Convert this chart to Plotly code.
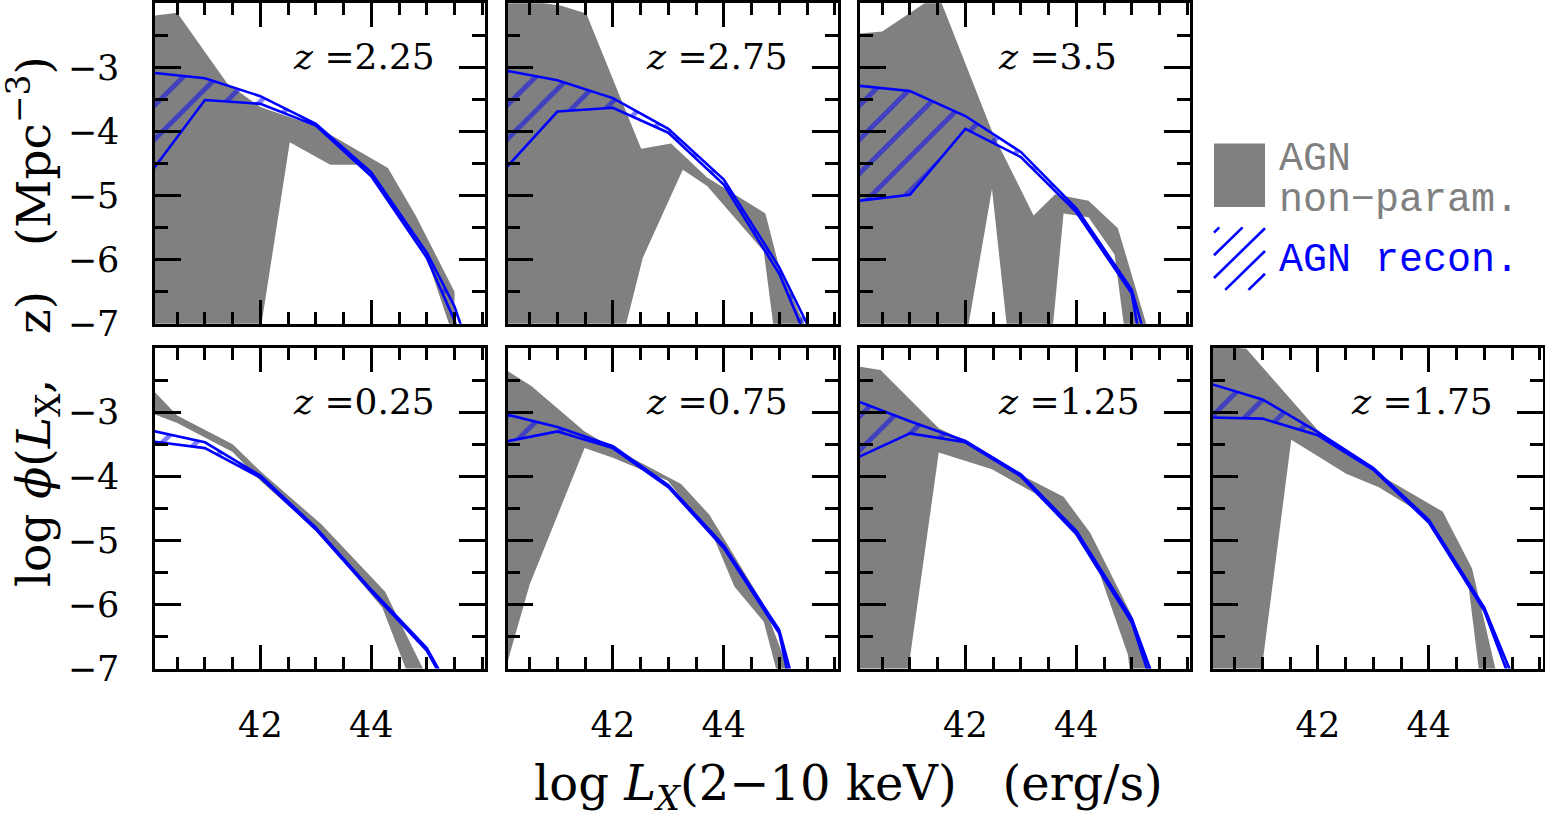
import plotly.graph_objects as go

W, H = 1545, 830

# panel redshifts: top row (2.25, 2.75, 3.5), bottom row (0.25 ... 1.75)
redshifts = ["2.25", "2.75", "3.5", "0.25", "0.75", "1.25", "1.75"]

# AGN recon. band (blue hatched): log phi, upper/lower edge, on this log Lx grid
recon_lx = [40.0, 41.0, 42.0, 43.0, 44.0, 45.0, 45.5, 46.0]

recon_hi_225 = [-3.08, -3.17, -3.45, -3.88, -4.64, -5.89, -6.73, -8.0]
recon_lo_225 = [-4.67, -3.51, -3.57, -3.91, -4.70, -5.97, -6.95, -8.5]
recon_hi_275 = [-3.04, -3.20, -3.48, -3.96, -4.75, -6.12, -7.00, -8.3]
recon_lo_275 = [-4.64, -3.69, -3.63, -4.02, -4.83, -6.22, -7.25, -8.5]
recon_hi_350 = [-3.28, -3.37, -3.76, -4.32, -5.20, -6.47, -8.0, -9.0]
recon_lo_350 = [-5.09, -4.99, -3.96, -4.40, -5.26, -6.53, -9.0, -10.0]
recon_hi_025 = [-3.28, -3.47, -3.99, -4.80, -5.77, -6.68, -7.45, -8.5]
recon_lo_025 = [-3.45, -3.56, -4.02, -4.83, -5.80, -6.72, -7.50, -8.6]
recon_hi_075 = [-3.02, -3.23, -3.53, -4.14, -5.08, -6.40, -8.0, -9.0]
recon_lo_075 = [-3.47, -3.30, -3.56, -4.17, -5.12, -6.45, -8.5, -9.5]
recon_hi_125 = [-2.81, -3.14, -3.45, -3.97, -4.85, -6.22, -7.4, -8.5]
recon_lo_125 = [-3.73, -3.33, -3.47, -4.00, -4.90, -6.28, -7.6, -8.7]
recon_hi_175 = [-2.54, -2.80, -3.31, -3.87, -4.68, -6.05, -7.10, -8.3]
recon_lo_175 = [-3.08, -3.10, -3.36, -3.90, -4.72, -6.10, -7.25, -8.5]

# AGN non-param. band (grey): upper and lower edges
nonpar_hi_x_225 = [40.0, 40.5, 41.4, 42.0, 43.0, 43.75, 44.3, 44.8, 45.5]
nonpar_hi_y_225 = [-2.20, -2.15, -3.25, -3.62, -3.92, -4.30, -4.57, -5.31, -6.50]
nonpar_lo_x_225 = [40.0, 41.9, 42.53, 43.26, 43.8, 44.0, 45.0, 45.4, 45.5]
nonpar_lo_y_225 = [-7.67, -7.67, -4.17, -4.52, -4.52, -4.68, -5.97, -7.0, -7.4]

nonpar_hi_x_275 = [40.0, 41.07, 41.52, 42.51, 43.05, 43.7, 44.75, 45.0, 45.45, 45.6]
nonpar_hi_y_275 = [-1.90, -2.04, -2.16, -4.27, -4.19, -4.72, -5.28, -6.12, -7.0, -7.6]
nonpar_lo_x_275 = [40.0, 41.95, 42.54, 43.26, 43.7, 44.72, 44.92, 45.6]
nonpar_lo_y_275 = [-8.0, -8.0, -5.97, -4.60, -4.85, -5.87, -7.2, -7.6]

nonpar_hi_x_350 = [40.0, 40.5, 41.35, 41.55, 42.5, 43.23, 43.62, 44.22, 44.75, 45.26, 45.4]
nonpar_hi_y_350 = [-2.48, -2.44, -1.95, -1.95, -4.04, -5.31, -4.98, -5.08, -5.51, -7.0, -7.5]
nonpar_lo_x_350 = [40.0, 42.0, 42.48, 42.78, 43.55, 43.77, 44.22, 44.69, 44.9, 45.4]
nonpar_lo_y_350 = [-7.3, -7.3, -4.90, -7.3, -7.3, -5.28, -5.34, -5.92, -7.3, -7.5]

nonpar_hi_x_025 = [40.0, 40.5, 41.5, 42.0, 43.1, 44.25, 44.93, 45.1]
nonpar_hi_y_025 = [-2.60, -3.05, -3.50, -3.92, -4.75, -5.80, -7.0, -7.4]
nonpar_lo_x_025 = [40.0, 40.5, 41.5, 42.0, 43.1, 44.2, 44.62, 44.8]
nonpar_lo_y_025 = [-3.00, -3.17, -3.62, -4.07, -4.92, -6.05, -7.0, -7.4]

nonpar_hi_x_075 = [40.0, 40.53, 41.49, 42.0, 43.23, 43.74, 44.72, 45.14, 45.3]
nonpar_hi_y_075 = [-2.30, -2.59, -3.30, -3.56, -4.12, -4.60, -6.00, -6.96, -7.5]
nonpar_lo_x_075 = [40.0, 40.5, 41.49, 42.0, 42.99, 43.83, 44.19, 44.72, 44.93, 45.1]
nonpar_lo_y_075 = [-7.2, -5.69, -3.56, -3.71, -4.07, -4.98, -5.72, -6.27, -6.96, -7.5]

nonpar_hi_x_125 = [40.0, 40.47, 41.52, 42.0, 42.96, 43.77, 44.25, 45.0, 45.32, 45.5]
nonpar_hi_y_125 = [-2.28, -2.34, -3.25, -3.45, -3.96, -4.32, -4.88, -6.17, -6.96, -7.5]
nonpar_lo_x_125 = [40.0, 40.9, 41.52, 42.48, 43.26, 43.92, 44.43, 44.93, 45.0]
nonpar_lo_y_125 = [-7.45, -7.45, -3.63, -3.89, -4.27, -4.83, -5.54, -6.78, -7.3]

nonpar_hi_x_175 = [40.0, 40.71, 42.0, 42.5, 43.0, 44.25, 44.78, 45.2, 45.3]
nonpar_hi_y_175 = [-1.95, -2.01, -3.28, -3.65, -3.92, -4.55, -5.44, -7.0, -7.5]
nonpar_lo_x_175 = [40.0, 40.93, 41.52, 42.51, 43.1, 44.0, 44.72, 44.9, 45.0]
nonpar_lo_y_175 = [-7.4, -7.4, -3.43, -3.96, -4.17, -4.65, -5.74, -7.0, -7.5]

# tick labels
x_tickvals = [42, 44]
y_tickvals = [-7, -6, -5, -4, -3]

recon_bands = [
    (recon_hi_225, recon_lo_225), (recon_hi_275, recon_lo_275), (recon_hi_350, recon_lo_350),
    (recon_hi_025, recon_lo_025), (recon_hi_075, recon_lo_075), (recon_hi_125, recon_lo_125),
    (recon_hi_175, recon_lo_175),
]
nonpar_bands = [
    (nonpar_hi_x_225, nonpar_hi_y_225, nonpar_lo_x_225, nonpar_lo_y_225),
    (nonpar_hi_x_275, nonpar_hi_y_275, nonpar_lo_x_275, nonpar_lo_y_275),
    (nonpar_hi_x_350, nonpar_hi_y_350, nonpar_lo_x_350, nonpar_lo_y_350),
    (nonpar_hi_x_025, nonpar_hi_y_025, nonpar_lo_x_025, nonpar_lo_y_025),
    (nonpar_hi_x_075, nonpar_hi_y_075, nonpar_lo_x_075, nonpar_lo_y_075),
    (nonpar_hi_x_125, nonpar_hi_y_125, nonpar_lo_x_125, nonpar_lo_y_125),
    (nonpar_hi_x_175, nonpar_hi_y_175, nonpar_lo_x_175, nonpar_lo_y_175),
]

GREY = "#808080"
BLUE = "#0000ff"
SERIF = "DejaVu Serif"
MONO = "Liberation Mono"
NB = "\u00a0"

# panel geometry in pixels
panel_left = [155, 507.5, 860, 1212.5]
panel_w = 330
row_top = [3.3, 356.7]
panel_h = 328.4


def px(x):
    return x / W


def py(y):
    return 1 - y / H


fig = go.Figure()
layout_axes = {}
annotations = []

for k, z in enumerate(redshifts):
    row = 0 if k < 3 else 1
    col = k if k < 3 else k - 3
    xname = "x" if k == 0 else f"x{k + 1}"
    yname = "y" if k == 0 else f"y{k + 1}"

    hx, hy, lx, ly = nonpar_bands[k]
    fig.add_trace(go.Scatter(
        x=hx + lx[::-1], y=hy + ly[::-1],
        fill="toself", fillcolor=GREY, mode="lines",
        line=dict(width=0, color=GREY),
        xaxis=xname, yaxis=yname, hoverinfo="skip", showlegend=False,
    ))

    hi, lo = recon_bands[k]
    fig.add_trace(go.Scatter(
        x=recon_lx + recon_lx[::-1], y=hi + lo[::-1],
        fill="toself", fillcolor="rgba(0,0,0,0)", mode="lines",
        fillpattern=dict(shape="/", fgcolor=BLUE, bgcolor="rgba(0,0,0,0)",
                         size=24, solidity=0.2),
        line=dict(width=2.6, color=BLUE),
        xaxis=xname, yaxis=yname, hoverinfo="skip", showlegend=False,
    ))

    left = panel_left[col]
    top = row_top[row]
    frame = dict(showline=True, linecolor="black", linewidth=2.5, mirror="allticks",
                 ticks="inside", tickcolor="black", tickwidth=2.5,
                 showgrid=False, zeroline=False,
                 tickfont=dict(family=SERIF, size=35, color="black"))
    layout_axes["xaxis" if k == 0 else f"xaxis{k + 1}"] = dict(
        frame,
        domain=[px(left), px(left + panel_w)],
        range=[40.1, 46.05], anchor=yname,
        tickmode="array", tickvals=x_tickvals, ticklen=24,
        showticklabels=(row == 1), ticklabelstandoff=24,
        minor=dict(tickmode="linear", tick0=40, dtick=0.5, ticks="inside",
                   ticklen=12, tickwidth=2.5, tickcolor="black", showgrid=False),
    )
    layout_axes["yaxis" if k == 0 else f"yaxis{k + 1}"] = dict(
        frame,
        domain=[py(top + panel_h), py(top)],
        range=[-7, -2], anchor=xname,
        tickmode="array", tickvals=y_tickvals, ticklen=26,
        showticklabels=(col == 0), ticklabelstandoff=26,
        minor=dict(tickmode="linear", tick0=-7, dtick=0.5, ticks="inside",
                   ticklen=13, tickwidth=2.5, tickcolor="black", showgrid=False),
    )

    annotations.append(dict(
        xref=xname, yref=yname, x=42.56, y=-2.83, xanchor="left", yanchor="middle",
        text="<i>z</i>" + NB + "=" + z, showarrow=False,
        font=dict(family=SERIF, size=36, color="black"),
    ))

# axis titles
annotations.append(dict(
    xref="paper", yref="paper", x=px(33), y=py(330), xanchor="center", yanchor="middle",
    textangle=-90, showarrow=False,
    text=("log" + NB + "<i>\u03d5</i>(<i>L</i><sub>X</sub>," + NB * 3 + "z)"
          + NB * 3 + "(Mpc<sup>\u22123</sup>)"),
    font=dict(family=SERIF, size=47, color="black"),
))
annotations.append(dict(
    xref="paper", yref="paper", x=px(848), y=py(806), xanchor="center", yanchor="middle",
    showarrow=False,
    text=("log" + NB + "<i>L</i><sub><i>X</i></sub>(2\u221210" + NB + "keV)"
          + NB * 3 + "(erg/s)"),
    font=dict(family=SERIF, size=48, color="black"),
))

# legend
annotations.append(dict(
    xref="paper", yref="paper", x=px(1277), y=py(163), xanchor="left", yanchor="middle",
    showarrow=False, text="AGN", font=dict(family=MONO, size=40, color=GREY),
))
annotations.append(dict(
    xref="paper", yref="paper", x=px(1277), y=py(205), xanchor="left", yanchor="middle",
    showarrow=False, text="non\u2212param.", font=dict(family=MONO, size=40, color=GREY),
))
annotations.append(dict(
    xref="paper", yref="paper", x=px(1277), y=py(267), xanchor="left", yanchor="middle",
    showarrow=False, text="AGN recon.", font=dict(family=MONO, size=40, color=BLUE),
))

shapes = [dict(type="rect", xref="paper", yref="paper",
               x0=px(1214), x1=px(1265), y0=py(212), y1=py(147),
               fillcolor=GREY, line=dict(width=0))]
# hatched legend swatch
bx0, bx1, by0, by1 = 1214, 1265, 233, 297
for i in range(5):
    c = 238.3 + 23.3 * i          # y where the diagonal meets the left edge
    xa = max(bx0, bx0 + c - by1)
    xb = min(bx1, bx0 + c - by0)
    shapes.append(dict(type="line", xref="paper", yref="paper",
                       x0=px(xa), y0=py(c - (xa - bx0)),
                       x1=px(xb), y1=py(c - (xb - bx0)),
                       line=dict(color=BLUE, width=2.6)))

fig.update_layout(
    width=W, height=H,
    margin=dict(l=0, r=0, t=0, b=0),
    paper_bgcolor="white", plot_bgcolor="white",
    showlegend=False,
    annotations=annotations,
    shapes=shapes,
    **layout_axes,
)

fig.write_html("out.html", config={"displayModeBar": False},
               post_script="document.body.style.margin='0';")
